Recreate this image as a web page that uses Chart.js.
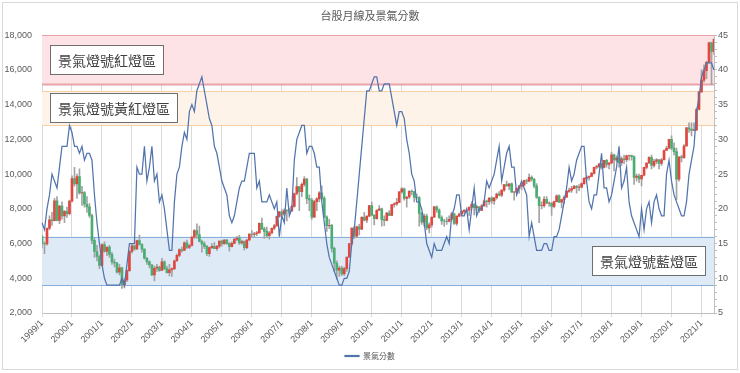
<!DOCTYPE html>
<html>
<head>
<meta charset="utf-8">
<title>台股月線及景氣分數</title>
<script src="https://cdn.jsdelivr.net/npm/chart.js@4.4.0/dist/chart.umd.min.js"></script>
<style>
  html, body { margin: 0; padding: 0; background: #fff; }
</style>
</head>
<body>
<canvas id="stockChart" width="740" height="373"></canvas>
<script>
// month labels 1999/1 .. 2021/6
const months = [];
for (let y = 1999; y <= 2021; y++) {
    for (let m = 1; m <= 12; m++) {
        if (y === 2021 && m > 6) break;
        months.push(y + '/' + m);
    }
}

// TAIEX monthly candles
const openVals = [
    6418, 5999, 5975, 6880, 7371, 7316, 8467, 7326, 8157, 7598, 7854, 7720,
    8448, 9744, 9435, 9854, 8922, 8939, 8265, 8114, 7616, 6185, 5544, 5256,
    4739, 5936, 5551, 5797, 5381, 4935, 4883, 4352, 4606, 3636, 3903, 4441,
    5551, 5872, 5696, 6167, 5944, 5675, 5153, 4940, 4764, 4191, 4579, 4646,
    4452, 4941, 4556, 4321, 4480, 4556, 5008, 5318, 5650, 5611, 6045, 5771,
    5890, 6375, 6750, 6522, 6117, 5977, 5840, 5420, 5765, 5845, 5706, 5844,
    6140, 5994, 6207, 6005, 5818, 6012, 6241, 6311, 6033, 6119, 5764, 6203,
    6548, 6532, 6562, 6613, 7171, 6847, 6704, 6454, 6611, 6883, 7021, 7568,
    7823, 7699, 7902, 7884, 7875, 8145, 8883, 9287, 8982, 9411, 9711, 8586,
    8506, 7521, 8413, 8572, 8919, 8619, 7523, 7024, 7046, 5719, 4870, 4460,
    4591, 4248, 4557, 5211, 5993, 6890, 6432, 6958, 6826, 7509, 7340, 7582,
    8188, 7640, 7436, 7920, 8004, 7374, 7329, 7760, 7616, 8238, 8287, 8372,
    8972, 9145, 8600, 8683, 9008, 8989, 8653, 8644, 7741, 7225, 7588, 6904,
    7072, 7517, 8121, 7933, 7501, 7301, 7296, 7270, 7397, 7715, 7166, 7580,
    7700, 7850, 7907, 7919, 8094, 8254, 8062, 8108, 7914, 8174, 8450, 8407,
    8612, 8462, 8640, 8849, 8792, 9075, 9393, 9315, 9436, 8966, 8975, 9187,
    9307, 9362, 9622, 9586, 9820, 9701, 9323, 8665, 8175, 8181, 8554, 8320,
    8338, 8145, 8411, 8744, 8377, 8535, 8667, 9007, 9069, 9166, 9290, 9240,
    9254, 9448, 9750, 9811, 9872, 10041, 10395, 10427, 10585, 10384, 10794, 10560,
    10643, 11104, 10815, 10919, 10657, 10875, 10837, 11057, 11063, 11006, 9802, 9888,
    9727, 9932, 10389, 10641, 10967, 10498, 10730, 10824, 10618, 10829, 11358, 11489,
    11997, 11495, 11292, 9708, 10992, 10943, 11621, 12665, 12592, 12516, 12546, 13723,
    14733, 15410, 15953, 16431, 17567, 17068
];
const highVals = [
    6500, 6100, 6900, 7600, 7800, 8600, 8710, 8200, 8400, 7900, 8100, 8500,
    9900, 10393, 10000, 10300, 9300, 9000, 8700, 8300, 7700, 6300, 5900, 5350,
    6000, 6104, 5800, 5900, 5500, 5100, 4900, 4800, 4650, 4000, 4500, 5600,
    6000, 5900, 6200, 6484, 6000, 5700, 5200, 5000, 4800, 4700, 4800, 4700,
    5150, 5000, 4700, 4800, 4600, 5050, 5400, 5700, 5800, 6100, 6200, 5950,
    6400, 6800, 7135, 7000, 6200, 6100, 5900, 5800, 6000, 6050, 5900, 6150,
    6200, 6250, 6250, 6050, 6100, 6300, 6400, 6480, 6200, 6150, 6250, 6560,
    6750, 6650, 6700, 7200, 7474, 6950, 6950, 6700, 6900, 7100, 7600, 7850,
    7950, 8000, 7950, 8050, 8200, 8900, 9800, 9300, 9500, 9859, 9750, 8800,
    8600, 8500, 8650, 9000, 9309, 8700, 7600, 7400, 7100, 5800, 5000, 4700,
    4700, 4650, 5250, 6000, 6900, 7000, 7000, 7100, 7550, 7800, 7600, 8200,
    8395, 7650, 7950, 8190, 8050, 7600, 7800, 7900, 8250, 8350, 8600, 8990,
    9220, 9200, 8700, 9050, 9100, 9000, 8850, 8700, 7800, 7700, 7700, 7200,
    7550, 8150, 8170, 8000, 7600, 7400, 7500, 7600, 7800, 7750, 7600, 7750,
    7900, 7950, 8000, 8100, 8400, 8300, 8200, 8150, 8250, 8500, 8500, 8650,
    8700, 8650, 8900, 9000, 9100, 9400, 9593, 9450, 9500, 9000, 9200, 9350,
    9500, 9650, 9700, 10014, 9900, 9750, 9450, 8700, 8400, 8700, 8700, 8400,
    8350, 8450, 8800, 8800, 8550, 8750, 9050, 9200, 9300, 9350, 9350, 9400,
    9500, 9800, 9900, 9900, 10100, 10400, 10500, 10600, 10600, 10800, 10850, 10650,
    11270, 11150, 11050, 11050, 11000, 11100, 11100, 11100, 11100, 11050, 10000, 10000,
    9950, 10400, 10650, 11000, 11100, 10850, 10900, 10850, 10900, 11400, 11600, 12000,
    12200, 11800, 11500, 11000, 11100, 11700, 12700, 12950, 12950, 12950, 13800, 14750,
    16000, 16300, 16500, 17600, 17600, 17800
];
const lowVals = [
    5750, 5422, 5900, 6800, 7050, 7300, 7300, 7150, 7400, 7200, 7500, 7650,
    8400, 9300, 8600, 8850, 8200, 8100, 7800, 7500, 6000, 5200, 5000, 4555,
    4700, 5500, 5300, 5200, 4800, 4650, 4300, 4200, 3411, 3446, 3800, 4400,
    5450, 5600, 5650, 5900, 5500, 5100, 4800, 4600, 4150, 3850, 4400, 4400,
    4450, 4500, 4300, 4139, 4100, 4500, 4950, 5250, 5500, 5600, 5700, 5700,
    5850, 6300, 6300, 6100, 5500, 5700, 5300, 5255, 5700, 5700, 5600, 5750,
    5850, 5950, 5950, 5565, 5800, 6000, 6150, 5950, 5950, 5618, 5700, 6150,
    6400, 6400, 6450, 6600, 6800, 6300, 6350, 6250, 6550, 6800, 7000, 7500,
    7600, 7600, 7300, 7800, 7850, 8100, 8800, 7900, 8700, 9300, 8300, 7900,
    7384, 7500, 7900, 8400, 8500, 7500, 6700, 6850, 5500, 4400, 3955, 4100,
    4150, 4164, 4400, 5200, 5900, 6300, 6350, 6500, 6800, 7300, 7200, 7550,
    7600, 7080, 7400, 7900, 7000, 7030, 7300, 7600, 7600, 8100, 8200, 8350,
    8900, 8500, 8100, 8600, 8800, 8400, 8550, 7000, 7100, 7000, 6800, 6609,
    6950, 7500, 7800, 7450, 7100, 7000, 7100, 7250, 7350, 7100, 7050, 7550,
    7600, 7700, 7800, 7600, 8050, 7650, 7900, 7800, 7900, 8150, 8100, 8250,
    8300, 8250, 8550, 8750, 8700, 9000, 9300, 9100, 8950, 8500, 8950, 8900,
    9100, 9350, 9450, 9550, 9600, 9200, 8600, 7203, 8000, 8100, 8300, 8150,
    7627, 8050, 8400, 8350, 8050, 8300, 8650, 8950, 8950, 9150, 8900, 9050,
    9200, 9400, 9650, 9650, 9850, 10000, 10300, 10350, 10300, 10350, 10400, 10300,
    10600, 10189, 10700, 10400, 10500, 10600, 10700, 10800, 10800, 9400, 9600, 9500,
    9319, 9900, 10300, 10600, 10300, 10400, 10600, 10300, 10500, 10800, 11350, 11450,
    11400, 11100, 8523, 9600, 10700, 10900, 11600, 12400, 12200, 12500, 12500, 13700,
    14700, 15300, 15500, 16400, 15162, 16900
];
const closeVals = [
    5999, 5975, 6880, 7371, 7316, 8467, 7326, 8157, 7598, 7854, 7720, 8448,
    9744, 9435, 9854, 8922, 8939, 8265, 8114, 7616, 6185, 5544, 5256, 4739,
    5936, 5551, 5797, 5381, 4935, 4883, 4352, 4606, 3636, 3903, 4441, 5551,
    5872, 5696, 6167, 5944, 5675, 5153, 4940, 4764, 4191, 4579, 4646, 4452,
    4941, 4556, 4321, 4480, 4556, 5008, 5318, 5650, 5611, 6045, 5771, 5890,
    6375, 6750, 6522, 6117, 5977, 5840, 5420, 5765, 5845, 5706, 5844, 6140,
    5994, 6207, 6005, 5818, 6012, 6241, 6311, 6033, 6119, 5764, 6203, 6548,
    6532, 6562, 6613, 7171, 6847, 6704, 6454, 6611, 6883, 7021, 7568, 7823,
    7699, 7902, 7884, 7875, 8145, 8883, 9287, 8982, 9411, 9711, 8586, 8506,
    7521, 8413, 8572, 8919, 8619, 7523, 7024, 7046, 5719, 4870, 4460, 4591,
    4248, 4557, 5211, 5993, 6890, 6432, 6958, 6826, 7509, 7340, 7582, 8188,
    7640, 7436, 7920, 8004, 7374, 7329, 7760, 7616, 8238, 8287, 8372, 8972,
    9145, 8600, 8683, 9008, 8989, 8653, 8644, 7741, 7225, 7588, 6904, 7072,
    7517, 8121, 7933, 7501, 7301, 7296, 7270, 7397, 7715, 7166, 7580, 7700,
    7850, 7907, 7919, 8094, 8254, 8062, 8108, 7914, 8174, 8450, 8407, 8612,
    8462, 8640, 8849, 8792, 9075, 9393, 9315, 9436, 8966, 8975, 9187, 9307,
    9362, 9622, 9586, 9820, 9701, 9323, 8665, 8175, 8181, 8554, 8320, 8338,
    8145, 8411, 8744, 8377, 8535, 8667, 9007, 9069, 9166, 9290, 9240, 9254,
    9448, 9750, 9811, 9872, 10041, 10395, 10427, 10585, 10384, 10794, 10560, 10643,
    11104, 10815, 10919, 10657, 10875, 10837, 11057, 11063, 11006, 9802, 9888, 9727,
    9932, 10389, 10641, 10967, 10498, 10730, 10824, 10618, 10829, 11358, 11489, 11997,
    11495, 11292, 9708, 10992, 10943, 11621, 12665, 12592, 12516, 12546, 13723, 14733,
    15410, 15953, 16431, 17567, 17068, 17755
];

// business cycle score
const scoreVals = [
    18, 17, 20, 22, 25, 24, 23, 26, 29, 29, 29, 32,
    31, 29, 29, 28, 29, 27, 28, 28, 27, 22, 18, 15,
    12, 10, 9, 9, 9, 9, 9, 9, 10, 9, 12, 15,
    15, 15, 26, 25, 25, 29, 24, 26, 29, 24, 25, 21,
    22, 20, 17, 14, 14, 21, 25, 26, 29, 31, 30, 34,
    35, 34, 37, 38, 39, 37, 35, 33, 32, 29, 28, 26,
    24, 23, 22, 19, 18, 19, 21, 23, 24, 24, 26, 28,
    28, 28, 23, 24, 21, 21, 21, 22, 21, 20, 21, 16,
    19, 18, 23, 19, 20, 27, 30, 31, 32, 32, 28, 29,
    29, 28, 26, 26, 21, 18, 15, 13, 12, 11, 10, 9,
    9, 10, 10, 11, 15, 17, 21, 25, 29, 33, 37, 37,
    38, 39, 39, 37, 37, 38, 38, 38, 36, 34, 32, 34,
    34, 33, 30, 28, 25, 24, 21, 21, 20, 18, 15, 14,
    13, 15, 14, 14, 14, 15, 16, 15, 19, 20, 22, 22,
    19, 19, 20, 17, 20, 23, 19, 20, 20, 21, 24, 23,
    24, 25, 27, 29, 24, 26, 28, 29, 26, 26, 22, 23,
    24, 23, 22, 16, 18, 16, 14, 14, 14, 15, 15, 14,
    14, 16, 16, 17, 19, 21, 23, 26, 24, 25, 27, 28,
    29, 29, 24, 21, 20, 22, 22, 25, 28, 23, 23, 21,
    22, 24, 26, 29, 23, 24, 26, 21, 19, 18, 17, 16,
    20, 17, 20, 21, 18, 21, 22, 20, 19, 19, 25, 27,
    24, 22, 21, 20, 19, 19, 21, 25, 27, 29, 34, 36,
    39, 40, 41, 41, 41, 40
];

// signal zones on the score axis
const zoneNames = ['景氣燈號紅燈區', '景氣燈號黃紅燈區', '景氣燈號藍燈區'];
const zoneLow = [38, 32, 9];
const zoneHigh = [45, 37, 16];

const UP = '#e2473f';
const DOWN = '#4aae72';
const zoneFill = ['#fde3e5', '#fdf3e9', '#deebf7'];
const zoneLine = ['#e8a2a8', '#f6cfa6', '#86afdb'];
const TXT = '#595959';
const FONT = '"Liberation Sans", "Noto Sans CJK TC", sans-serif';

// background bands + label boxes
const zonePlugin = {
    id: 'zones',
    beforeDraw(chart) {
        const ctx = chart.ctx;
        ctx.save();
        ctx.strokeStyle = '#d9d9d9';
        ctx.lineWidth = 1;
        ctx.strokeRect(2.5, 2.5, 735, 367);
        ctx.restore();
    },
    beforeDatasetsDraw(chart) {
        const ctx = chart.ctx;
        const a = chart.chartArea;
        const y1 = chart.scales.y1;
        ctx.save();
        for (let i = 0; i < zoneNames.length; i++) {
            const top = y1.getPixelForValue(zoneHigh[i]);
            const bot = y1.getPixelForValue(zoneLow[i]);
            ctx.fillStyle = zoneFill[i];
            ctx.fillRect(a.left, top, a.right - a.left, bot - top);
            ctx.strokeStyle = zoneLine[i];
            ctx.lineWidth = i === 0 ? 2 : 1;
            ctx.beginPath();
            ctx.moveTo(a.left, Math.round(bot) + 0.5);
            ctx.lineTo(a.right, Math.round(bot) + 0.5);
            ctx.stroke();
            ctx.lineWidth = 1;
            ctx.beginPath();
            ctx.moveTo(a.left, Math.round(top) + 0.5);
            ctx.lineTo(a.right, Math.round(top) + 0.5);
            ctx.stroke();
        }
        ctx.restore();
    },
    afterDatasetsDraw(chart) {
        const ctx = chart.ctx;
        const a = chart.chartArea;
        const y1 = chart.scales.y1;
        ctx.save();
        ctx.font = '14px "Noto Sans CJK TC", sans-serif';
        ctx.textBaseline = 'middle';
        const h = 29;
        for (let i = 0; i < zoneNames.length; i++) {
            const w = ctx.measureText(zoneNames[i]).width + 15;
            let x, y;
            if (i === 2) {
                x = a.right - 9 - w;
                y = y1.getPixelForValue(zoneHigh[i]) + 9;
            } else {
                x = a.left + 8;
                y = y1.getPixelForValue(zoneHigh[i]) + (i === 0 ? 10 : 2);
            }
            x = Math.round(x) + 0.5;
            y = Math.round(y) + 0.5;
            ctx.fillStyle = '#fff';
            ctx.fillRect(x, y, w, h);
            ctx.strokeStyle = '#6e6e6e';
            ctx.lineWidth = 1;
            ctx.strokeRect(x, y, w, h);
            ctx.fillStyle = '#404040';
            ctx.fillText(zoneNames[i], x + 7.5, y + h / 2 + 1);
        }
        ctx.restore();
    }
};

const ctx1 = document.getElementById('stockChart').getContext('2d');
const stockChart = new Chart(ctx1, {
    type: 'bar',
    data: {
        labels: months,
        datasets: [{
            type: 'line',
            label: '景氣分數',
            data: scoreVals,
            yAxisID: 'y1',
            borderColor: '#5274ad',
            backgroundColor: '#5274ad',
            borderWidth: 1.25,
            pointRadius: 0,
            tension: 0,
            order: 0
        }, {
            label: 'body',
            data: openVals.map((o, i) => [o, closeVals[i]]),
            yAxisID: 'y',
            backgroundColor: closeVals.map((c, i) => c >= openVals[i] ? UP : DOWN),
            barThickness: 2,
            grouped: false,
            order: 1
        }, {
            label: 'wick',
            data: lowVals.map((l, i) => [l, highVals[i]]),
            yAxisID: 'y',
            backgroundColor: '#a3a3a3',
            barThickness: 1,
            grouped: false,
            order: 2
        }]
    },
    options: {
        responsive: false,
        animation: false,
        layout: { padding: { left: 0, right: 0, top: 0, bottom: 3 } },
        plugins: {
            title: {
                display: true,
                text: '台股月線及景氣分數',
                color: TXT,
                font: { family: '"Noto Sans CJK TC", sans-serif', size: 11, weight: 'normal' },
                padding: { top: 9, bottom: 13 }
            },
            legend: {
                position: 'bottom',
                labels: {
                    filter: item => item.datasetIndex === 0,
                    boxWidth: 14,
                    boxHeight: 1,
                    color: TXT,
                    font: { family: '"Noto Sans CJK TC", sans-serif', size: 8 },
                    padding: 9
                }
            },
            tooltip: { enabled: false }
        },
        scales: {
            x: {
                type: 'category',
                offset: false,
                grid: {
                    offset: false,
                    color: c => (c.index % 12 === 0 ? '#d9d9d9' : 'rgba(0,0,0,0)'),
                    tickLength: 4
                },
                border: { color: '#bfbfbf' },
                ticks: {
                    autoSkip: false,
                    maxRotation: 45,
                    minRotation: 45,
                    padding: 1,
                    color: TXT,
                    font: { family: FONT, size: 9 },
                    callback: function (val, idx) {
                        return idx % 12 === 0 ? this.getLabelForValue(val) : '';
                    }
                },
                afterFit: s => { s.height = 30; }
            },
            y: {
                position: 'left',
                min: 2000,
                max: 18000,
                grid: { display: false, drawTicks: false },
                border: { display: true, color: '#d9d9d9' },
                ticks: {
                    stepSize: 2000,
                    padding: 10,
                    color: TXT,
                    font: { family: FONT, size: 9 },
                    callback: v => v.toLocaleString('en-US')
                },
                afterFit: s => { s.width = 42; }
            },
            y1: {
                position: 'right',
                min: 5,
                max: 45,
                grid: { drawOnChartArea: false, tickLength: 3, color: '#bfbfbf' },
                border: { color: '#bfbfbf' },
                ticks: {
                    stepSize: 1,
                    autoSkip: false,
                    padding: 1,
                    color: TXT,
                    font: { family: FONT, size: 9 },
                    callback: v => (v % 5 === 0 ? v : '')
                },
                afterFit: s => { s.width = 26; }
            }
        }
    },
    plugins: [zonePlugin]
});
</script>
</body>
</html>
